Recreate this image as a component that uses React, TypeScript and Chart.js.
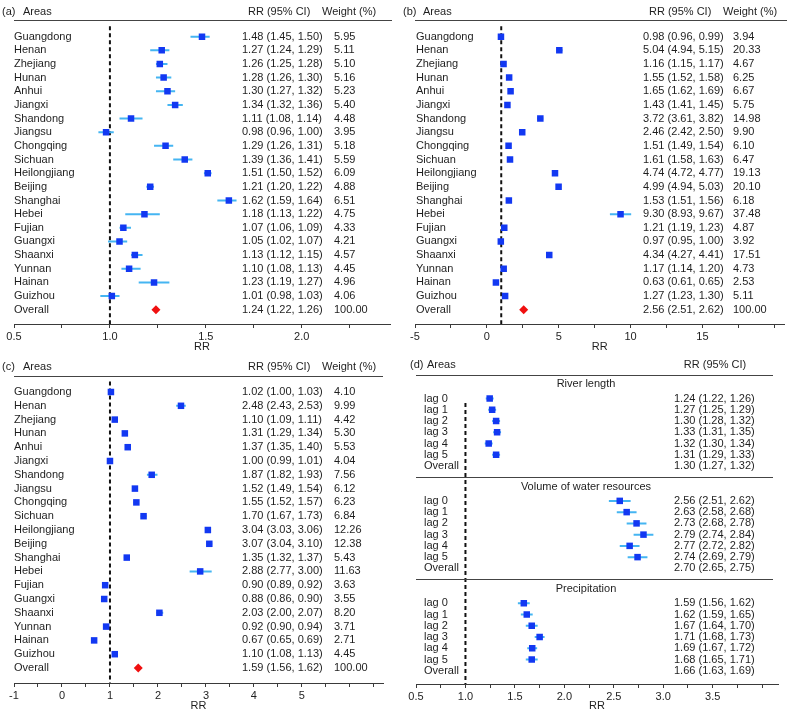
import React, { useEffect, useRef } from 'react';
import { Chart, registerables } from 'chart.js';

Chart.register(...registerables);

// ---------------- data ----------------
const areas = ['Guangdong', 'Henan', 'Zhejiang', 'Hunan', 'Anhui', 'Jiangxi', 'Shandong', 'Jiangsu', 'Chongqing', 'Sichuan',
  'Heilongjiang', 'Beijing', 'Shanghai', 'Hebei', 'Fujian', 'Guangxi', 'Shaanxi', 'Yunnan', 'Hainan', 'Guizhou'];
const overallLabel = 'Overall';
const totalWeight = 100;

// (a)
const aEst = [1.48, 1.27, 1.26, 1.28, 1.30, 1.34, 1.11, 0.98, 1.29, 1.39, 1.51, 1.21, 1.62, 1.18, 1.07, 1.05, 1.13, 1.10, 1.23, 1.01];
const aLo = [1.45, 1.24, 1.25, 1.26, 1.27, 1.32, 1.08, 0.96, 1.26, 1.36, 1.50, 1.20, 1.59, 1.13, 1.06, 1.02, 1.12, 1.08, 1.19, 0.98];
const aHi = [1.50, 1.29, 1.28, 1.30, 1.32, 1.36, 1.14, 1.00, 1.31, 1.41, 1.52, 1.22, 1.64, 1.22, 1.09, 1.07, 1.15, 1.13, 1.27, 1.03];
const aWeight = [5.95, 5.11, 5.10, 5.16, 5.23, 5.40, 4.48, 3.95, 5.18, 5.59, 6.09, 4.88, 6.51, 4.75, 4.33, 4.21, 4.57, 4.45, 4.96, 4.06];
const aOverall = [1.24, 1.22, 1.26];

// (b)
const bEst = [0.98, 5.04, 1.16, 1.55, 1.65, 1.43, 3.72, 2.46, 1.51, 1.61, 4.74, 4.99, 1.53, 9.30, 1.21, 0.97, 4.34, 1.17, 0.63, 1.27];
const bLo = [0.96, 4.94, 1.15, 1.52, 1.62, 1.41, 3.61, 2.42, 1.49, 1.58, 4.72, 4.94, 1.51, 8.93, 1.19, 0.95, 4.27, 1.14, 0.61, 1.23];
const bHi = [0.99, 5.15, 1.17, 1.58, 1.69, 1.45, 3.82, 2.50, 1.54, 1.63, 4.77, 5.03, 1.56, 9.67, 1.23, 1.00, 4.41, 1.20, 0.65, 1.30];
const bWeight = [3.94, 20.33, 4.67, 6.25, 6.67, 5.75, 14.98, 9.90, 6.10, 6.47, 19.13, 20.10, 6.18, 37.48, 4.87, 3.92, 17.51, 4.73, 2.53, 5.11];
const bOverall = [2.56, 2.51, 2.62];

// (c)
const cEst = [1.02, 2.48, 1.10, 1.31, 1.37, 1.00, 1.87, 1.52, 1.55, 1.70, 3.04, 3.07, 1.35, 2.88, 0.90, 0.88, 2.03, 0.92, 0.67, 1.10];
const cLo = [1.00, 2.43, 1.09, 1.29, 1.35, 0.99, 1.82, 1.49, 1.52, 1.67, 3.03, 3.04, 1.32, 2.77, 0.89, 0.86, 2.00, 0.90, 0.65, 1.08];
const cHi = [1.03, 2.53, 1.11, 1.34, 1.40, 1.01, 1.93, 1.54, 1.57, 1.73, 3.06, 3.10, 1.37, 3.00, 0.92, 0.90, 2.07, 0.94, 0.69, 1.13];
const cWeight = [4.10, 9.99, 4.42, 5.30, 5.53, 4.04, 7.56, 6.12, 6.23, 6.84, 12.26, 12.38, 5.43, 11.63, 3.63, 3.55, 8.20, 3.71, 2.71, 4.45];
const cOverall = [1.59, 1.56, 1.62];

// (d)
const dGroups = ['River length', 'Volume of water resources', 'Precipitation'];
const dLags = ['lag 0', 'lag 1', 'lag 2', 'lag 3', 'lag 4', 'lag 5'];
const riverEst = [1.24, 1.27, 1.30, 1.33, 1.32, 1.31, 1.30];
const riverLo = [1.22, 1.25, 1.28, 1.31, 1.30, 1.29, 1.27];
const riverHi = [1.26, 1.29, 1.32, 1.35, 1.34, 1.33, 1.32];
const riverPlotted = [1.245, 1.27, 1.31, 1.32, 1.235, 1.31];
const waterEst = [2.56, 2.63, 2.73, 2.79, 2.77, 2.74, 2.70];
const waterLo = [2.51, 2.58, 2.68, 2.74, 2.72, 2.69, 2.65];
const waterHi = [2.62, 2.68, 2.78, 2.84, 2.82, 2.79, 2.75];
const waterPlotted = [2.56, 2.63, 2.73, 2.80, 2.66, 2.74];
const precipEst = [1.59, 1.62, 1.67, 1.71, 1.69, 1.68, 1.66];
const precipLo = [1.56, 1.59, 1.64, 1.68, 1.67, 1.65, 1.63];
const precipHi = [1.62, 1.65, 1.70, 1.73, 1.72, 1.71, 1.69];
const precipPlotted = [1.59, 1.62, 1.67, 1.75, 1.675, 1.67];

// ---------------- style ----------------
const FONT = "'Liberation Sans', Arial, Helvetica, sans-serif";
const TEXT = '#1e1e1e';
const SQUARE = '#1238f2';
const WHISK = '#45b5f2';
const DIAMOND = '#f01010';
const AXIS = '#3a3a3a';
const WHISKER_SCALE = 2;
const FS = 11;

type Pt = { x: number; y: number };
type Whisker = { lo: number; hi: number; y: number };

interface Spec {
  left: number; top: number; width: number; height: number;
  padLeft: number; padRight: number; padTop: number; axisH: number;
  xMin: number; xMax: number; step: number; major: number; labelMax: number; decimals: number;
  firstRow: number; rowH: number;
  squares: Pt[]; diamonds: Pt[]; whiskers: Whisker[];
  refTop: number;
  draw: (chart: Chart) => void;
}

const fmt = (v: number) => v.toFixed(2);
const ciText = (e: number, l: number, h: number) => `${fmt(e)} (${fmt(l)}, ${fmt(h)})`;

function hline(ctx: CanvasRenderingContext2D, x0: number, x1: number, y: number, color = '#444') {
  ctx.save();
  ctx.strokeStyle = color;
  ctx.lineWidth = 1;
  const yy = Math.round(y) + 0.5;
  ctx.beginPath();
  ctx.moveTo(x0, yy);
  ctx.lineTo(x1, yy);
  ctx.stroke();
  ctx.restore();
}

interface Cols { tag: number; areas: number; name: number; ciHdr: number; ci: number; wHdr: number; w: number; lineL: number; lineR: number }

const HDR_TEXT_Y = -1.84;
const HDR_LINE_Y = -1.19;
const REF_TOP_ABC = -0.76;

function tableDrawer(tag: string, est: number[], lo: number[], hi: number[], w: number[], ov: number[], cols: Cols) {
  return (chart: Chart) => {
    const ctx = chart.ctx;
    const ys = chart.scales.y;
    ctx.save();
    ctx.font = `${FS}px ${FONT}`;
    ctx.fillStyle = TEXT;
    ctx.textBaseline = 'middle';
    ctx.textAlign = 'left';
    const hy = ys.getPixelForValue(HDR_TEXT_Y);
    ctx.fillText(tag, cols.tag, hy);
    ctx.fillText('Areas', cols.areas, hy);
    ctx.fillText('RR (95% CI)', cols.ciHdr, hy);
    ctx.fillText('Weight (%)', cols.wHdr, hy);
    hline(ctx, cols.lineL, cols.lineR, ys.getPixelForValue(HDR_LINE_Y));
    areas.forEach((n, i) => {
      const y = ys.getPixelForValue(i);
      ctx.fillText(n, cols.name, y);
      ctx.fillText(ciText(est[i], lo[i], hi[i]), cols.ci, y);
      ctx.fillText(fmt(w[i]), cols.w, y);
    });
    const oy = ys.getPixelForValue(areas.length);
    ctx.fillText(overallLabel, cols.name, oy);
    ctx.fillText(ciText(ov[0], ov[1], ov[2]), cols.ci, oy);
    ctx.fillText(fmt(totalWeight), cols.w, oy);
    ctx.restore();
  };
}

function tableMarks(est: number[], lo: number[], hi: number[], ov: number[]) {
  const squares = est.map((e, i) => ({ x: e, y: i }));
  const whiskers = est.map((e, i) => ({
    lo: e - WHISKER_SCALE * (e - lo[i]),
    hi: e + WHISKER_SCALE * (hi[i] - e),
    y: i,
  }));
  const diamonds = [{ x: ov[0], y: areas.length }];
  return { squares, whiskers, diamonds };
}

// (d) layout in row units
const GROUP_STEP = 9.1;
const D_HDR_TEXT_Y = -2.98;
const D_HDR_LINE_Y = -2.1;
const D_TITLE_OFF = -1.27;
const D_SEP_OFF = 6.98;
const D_REF_TOP = 0.4;

const dGroupData = [
  { est: riverEst, lo: riverLo, hi: riverHi, plot: riverPlotted },
  { est: waterEst, lo: waterLo, hi: waterHi, plot: waterPlotted },
  { est: precipEst, lo: precipLo, hi: precipHi, plot: precipPlotted },
];

function dMarks() {
  const squares: Pt[] = [];
  const whiskers: Whisker[] = [];
  dGroupData.forEach((g, gi) => {
    g.plot.forEach((p, i) => {
      const y = gi * GROUP_STEP + i;
      const half = (WHISKER_SCALE * (g.hi[i] - g.lo[i])) / 2;
      squares.push({ x: p, y });
      whiskers.push({ lo: p - half, hi: p + half, y });
    });
  });
  return { squares, whiskers, diamonds: [] as Pt[] };
}

function dDrawer(chart: Chart) {
  const ctx = chart.ctx;
  const ys = chart.scales.y;
  ctx.save();
  ctx.font = `${FS}px ${FONT}`;
  ctx.fillStyle = TEXT;
  ctx.textBaseline = 'middle';
  const hy = ys.getPixelForValue(D_HDR_TEXT_Y);
  ctx.textAlign = 'left';
  ctx.fillText('(d)', 15, hy);
  ctx.fillText('Areas', 32, hy);
  ctx.textAlign = 'center';
  ctx.fillText('RR (95% CI)', 320, hy);
  hline(ctx, 21, 378, ys.getPixelForValue(D_HDR_LINE_Y));
  dGroupData.forEach((g, gi) => {
    const base = gi * GROUP_STEP;
    ctx.textAlign = 'center';
    ctx.fillText(dGroups[gi], 191, ys.getPixelForValue(base + D_TITLE_OFF));
    ctx.textAlign = 'left';
    const labels = [...dLags, overallLabel];
    labels.forEach((lab, i) => {
      const y = ys.getPixelForValue(base + i);
      ctx.fillText(lab, 29, y);
      ctx.fillText(ciText(g.est[i], g.lo[i], g.hi[i]), 279, y);
    });
    if (gi < dGroupData.length - 1) hline(ctx, 21, 378, ys.getPixelForValue(base + D_SEP_OFF));
  });
  ctx.restore();
}

// ---------------- specs ----------------
const aM = tableMarks(aEst, aLo, aHi, aOverall);
const bM = tableMarks(bEst, bLo, bHi, bOverall);
const cM = tableMarks(cEst, cLo, cHi, cOverall);
const dM = dMarks();

const specs: Spec[] = [
  {
    left: 0, top: 0, width: 395, height: 354, padLeft: 14, padRight: 5, padTop: 0, axisH: 30,
    xMin: 0.5, xMax: 2.46, step: 0.25, major: 0.5, labelMax: 2.0, decimals: 1,
    firstRow: 32.5, rowH: 13.85, ...aM, refTop: REF_TOP_ABC,
    draw: tableDrawer('(a)', aEst, aLo, aHi, aWeight, aOverall,
      { tag: 2, areas: 23, name: 14, ciHdr: 248, ci: 242, wHdr: 322, w: 334, lineL: 14, lineR: 392 }),
  },
  {
    left: 395, top: 0, width: 394, height: 354, padLeft: 20, padRight: 4, padTop: 0, axisH: 30,
    xMin: -5, xMax: 20.7, step: 2.5, major: 5, labelMax: 15, decimals: 0,
    firstRow: 32.5, rowH: 13.85, ...bM, refTop: REF_TOP_ABC,
    draw: tableDrawer('(b)', bEst, bLo, bHi, bWeight, bOverall,
      { tag: 8, areas: 28, name: 21, ciHdr: 254, ci: 248, wHdr: 328, w: 338, lineL: 20, lineR: 392 }),
  },
  {
    left: 0, top: 352, width: 395, height: 361, padLeft: 14, padRight: 12, padTop: 8, axisH: 30,
    xMin: -1, xMax: 6.69, step: 0.5, major: 1, labelMax: 5, decimals: 0,
    firstRow: 32, rowH: 13.8, ...cM, refTop: REF_TOP_ABC,
    draw: tableDrawer('(c)', cEst, cLo, cHi, cWeight, cOverall,
      { tag: 2, areas: 23, name: 14, ciHdr: 248, ci: 242, wHdr: 322, w: 334, lineL: 14, lineR: 383 }),
  },
  {
    left: 395, top: 352, width: 394, height: 361, padLeft: 21, padRight: 11, padTop: 8, axisH: 29,
    xMin: 0.5, xMax: 4.16, step: 0.25, major: 0.5, labelMax: 3.5, decimals: 1,
    firstRow: 38.5, rowH: 11.25, ...dM, refTop: D_REF_TOP,
    draw: dDrawer,
  },
];

function buildChart(canvas: HTMLCanvasElement, s: Spec) {
  const areaH = s.height - s.padTop - s.axisH;
  const yMin = -s.firstRow / s.rowH;
  const yMax = (areaH - s.firstRow) / s.rowH;
  const whiskData: any[] = [];
  s.whiskers.forEach((w) => {
    whiskData.push({ x: w.lo, y: w.y }, { x: w.hi, y: w.y }, { x: w.hi, y: null });
  });
  const textPlugin = {
    id: 'forestText',
    afterDraw: (chart: Chart) => s.draw(chart),
  };
  return new Chart(canvas, {
    type: 'scatter',
    data: {
      datasets: [
        {
          data: s.squares,
          pointStyle: 'rect',
          pointRadius: 4.6,
          backgroundColor: SQUARE,
          borderColor: SQUARE,
          borderWidth: 0,
        },
        {
          data: s.diamonds,
          pointStyle: 'rectRot',
          pointRadius: 4.5,
          backgroundColor: DIAMOND,
          borderColor: DIAMOND,
          borderWidth: 0,
        },
        {
          data: whiskData,
          showLine: true,
          spanGaps: false,
          pointRadius: 0,
          borderColor: WHISK,
          borderWidth: 2,
        },
        {
          data: [{ x: 1, y: s.refTop }, { x: 1, y: yMax }],
          showLine: true,
          pointRadius: 0,
          borderColor: '#111',
          borderWidth: 2,
          borderDash: [4, 3],
        },
      ] as any,
    },
    options: {
      responsive: false,
      animation: false,
      events: [],
      layout: { padding: { left: s.padLeft, right: s.padRight, top: s.padTop, bottom: 0 } },
      plugins: {
        legend: { display: false },
        tooltip: { enabled: false },
        title: { display: false },
      },
      scales: {
        x: {
          type: 'linear',
          min: s.xMin,
          max: s.xMax,
          border: { display: true, color: AXIS, width: 1 },
          grid: { display: true, drawOnChartArea: false, drawTicks: true, tickLength: 4, color: AXIS, tickColor: AXIS },
          ticks: {
            stepSize: s.step,
            includeBounds: false,
            autoSkip: false,
            maxRotation: 0,
            padding: 2,
            color: TEXT,
            font: { family: FONT, size: FS },
            callback: (v: any) => {
              const n = Number(v);
              const r = n / s.major;
              if (Math.abs(r - Math.round(r)) > 1e-6) return '';
              if (n > s.labelMax + 1e-6) return '';
              return n.toFixed(s.decimals);
            },
          },
          title: { display: true, text: 'RR', color: TEXT, font: { family: FONT, size: FS }, padding: 0 },
          afterFit: (scale: any) => {
            scale.height = s.axisH;
          },
        },
        y: { type: 'linear', min: yMin, max: yMax, reverse: true, display: false },
      },
    } as any,
    plugins: [textPlugin],
  });
}

function Panel({ spec }: { spec: Spec }) {
  const ref = useRef<HTMLCanvasElement | null>(null);
  useEffect(() => {
    if (!ref.current) return;
    const chart = buildChart(ref.current, spec);
    return () => chart.destroy();
  }, [spec]);
  return (
    <canvas
      ref={ref}
      width={spec.width}
      height={spec.height}
      style={{ position: 'absolute', left: spec.left, top: spec.top, width: spec.width, height: spec.height }}
    />
  );
}

export default function App() {
  return (
    <div style={{ position: 'absolute', left: 0, top: 0, width: 789, height: 713, background: '#fff', overflow: 'hidden' }}>
      {specs.map((s, i) => (
        <Panel key={i} spec={s} />
      ))}
    </div>
  );
}
